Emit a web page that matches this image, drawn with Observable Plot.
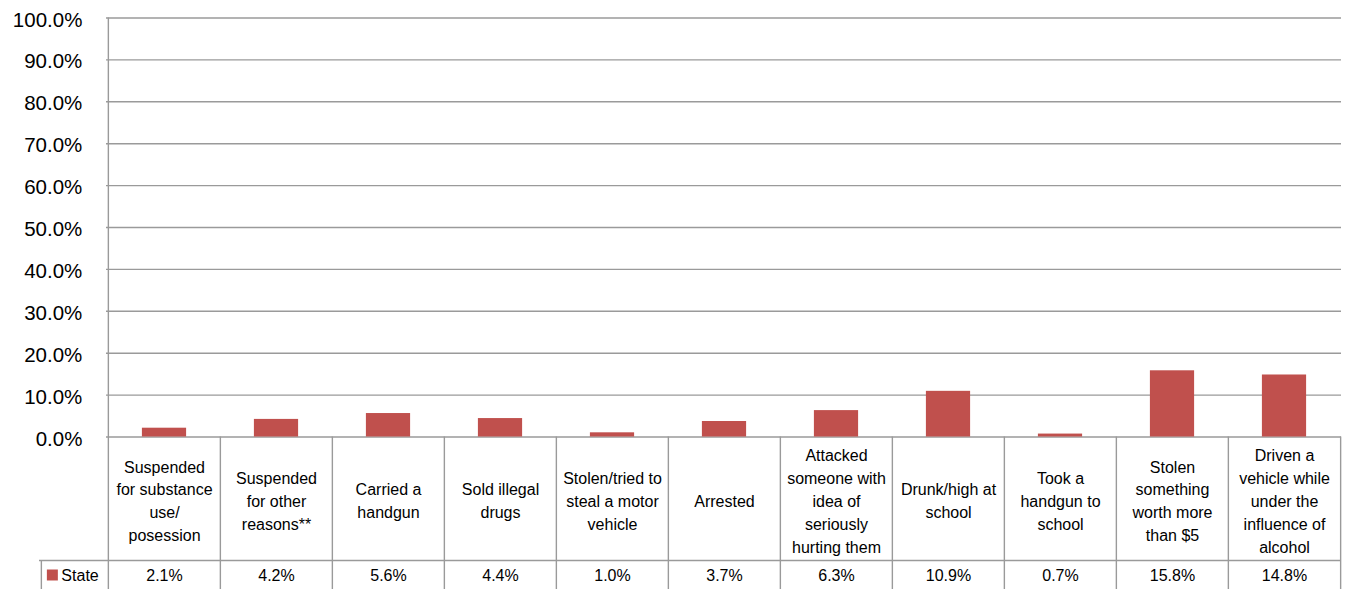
<!DOCTYPE html>
<html>
<head>
<meta charset="utf-8">
<script src="https://cdn.jsdelivr.net/npm/d3@7"></script>
<script src="https://cdn.jsdelivr.net/npm/@observablehq/plot@0.6"></script>
<style>
  html, body { margin: 0; padding: 0; background: #fff; }
</style>
</head>
<body>
<div id="chart"></div>
<script>
const categories = [
  "Suspended\nfor substance\nuse/\nposession",
  "Suspended\nfor other\nreasons**",
  "Carried a\nhandgun",
  "Sold illegal\ndrugs",
  "Stolen/tried to\nsteal a motor\nvehicle",
  "Arrested",
  "Attacked\nsomeone with\nidea of\nseriously\nhurting them",
  "Drunk/high at\nschool",
  "Took a\nhandgun to\nschool",
  "Stolen\nsomething\nworth more\nthan $5",
  "Driven a\nvehicle while\nunder the\ninfluence of\nalcohol"
];
const stateValues = [2.1, 4.2, 5.6, 4.4, 1.0, 3.7, 6.3, 10.9, 0.7, 15.8, 14.8];
const seriesName = "State";
const yTicks = [0, 10, 20, 30, 40, 50, 60, 70, 80, 90, 100];

const rows = categories.map((c, i) => ({category: c, value: stateValues[i]}));

// detect a narrow sans font for the table text
const narrowOK = (() => {
  const ctx = document.createElement("canvas").getContext("2d");
  const s = "Arrested wwwiii 15.8%";
  ctx.font = "19px monospace";
  const a = ctx.measureText(s).width;
  ctx.font = "19px 'Liberation Sans Narrow', monospace";
  const b = ctx.measureText(s).width;
  return Math.abs(a - b) > 0.5;
})();
const tableFamily = narrowOK ? "'Liberation Sans Narrow', 'Liberation Sans', Arial, sans-serif" : "'Liberation Sans', Arial, sans-serif";
const tableSize = narrowOK ? 19 : 16;
const tableLH = narrowOK ? 1.2 : 1.43;

const W = 1345, H = 589;
const mL = 106, mR = 4, mT = 17.5, mB = 152.5;
const bw = (W - mL - mR) / categories.length;
const frameH = H - mT - mB;
const gridColor = "#9a9a9a";
const barColor = "#C0504D";
const first = categories[0];
const last = categories[categories.length - 1];

const chart = Plot.plot({
  width: W,
  height: H,
  marginLeft: mL,
  marginRight: mR,
  marginTop: mT,
  marginBottom: mB,
  style: {fontFamily: "'Liberation Sans', Arial, sans-serif", fontSize: "16px", color: "#000", background: "#fff", overflow: "visible"},
  x: {type: "band", domain: categories, padding: 0, axis: null},
  y: {domain: [0, 100], axis: null},
  marks: [
    // gridlines
    Plot.ruleY(yTicks, {stroke: gridColor, strokeWidth: 1.4}),
    // y tick labels
    Plot.text(yTicks, {x: () => first, y: d => d, text: d => d.toFixed(1) + "%", textAnchor: "end", dx: -bw / 2 - 26, dy: 2, fontSize: 20.5, fill: "#000"}),
    // bars
    Plot.barY(rows, {x: "category", y: "value", fill: barColor, insetLeft: 33.9, insetRight: 33.9}),
    // left axis line extended through the table
    Plot.ruleX([first], {dx: -bw / 2, stroke: gridColor, strokeWidth: 1.4, insetBottom: -mB}),
    // internal table cell borders
    Plot.ruleX(categories.slice(1), {dx: -bw / 2, stroke: gridColor, strokeWidth: 1.4, insetTop: frameH, insetBottom: -mB}),
    // right table border
    Plot.ruleX([last], {dx: bw / 2, stroke: gridColor, strokeWidth: 1.4, insetTop: frameH, insetBottom: -mB}),
    // horizontal line between category row and series row
    Plot.ruleY([0], {dy: 123.5, insetLeft: -67, stroke: gridColor, strokeWidth: 1.4}),
    // left border of legend cell
    Plot.ruleX([first], {dx: -bw / 2 - 67, stroke: gridColor, strokeWidth: 1.4, insetTop: frameH + 123.5, insetBottom: -mB}),
    // category labels
    Plot.text(rows, {x: "category", y: () => 0, text: "category", dy: 62.5, lineAnchor: "middle", lineHeight: tableLH, fontSize: tableSize, fontFamily: tableFamily, fill: "#000"}),
    // values
    Plot.text(rows, {x: "category", y: () => 0, text: d => d.value.toFixed(1) + "%", dy: 139, lineAnchor: "middle", fontSize: tableSize, fontFamily: tableFamily, fill: "#000"}),
    // legend key
    Plot.dot([seriesName], {x: () => first, y: () => 0, symbol: "square", r: 6.2, fill: barColor, stroke: null, dx: -bw / 2 - 56, dy: 138}),
    Plot.text([seriesName], {x: () => first, y: () => 0, text: d => d, textAnchor: "start", dx: -bw / 2 - 47, dy: 139, lineAnchor: "middle", fontSize: tableSize, fontFamily: tableFamily, fill: "#000"})
  ]
});
document.getElementById("chart").appendChild(chart);
</script>
</body>
</html>
